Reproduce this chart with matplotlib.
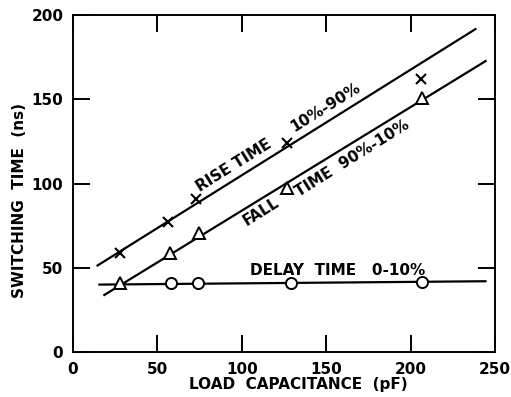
import numpy as np
import matplotlib
matplotlib.use("Agg")
import matplotlib.pyplot as plt

# measured points (load capacitance in pF, time in ns)
rise_x = [28, 56, 73, 127, 206]
rise_y = [59, 77, 91, 124, 162]
fall_x = [28, 57.5, 74.5, 127, 207]
fall_y = [41, 59, 70.5, 97.5, 150.5]
delay_x = [58, 74, 129, 207]
delay_y = [41, 41, 41, 41.3]

# hand-drawn straight lines through the data
rise_line_x = [14, 239]
rise_line_y = [51, 192]
fall_line_x = [18, 245]
fall_line_y = [33.5, 173]
delay_line_x = [15, 245]
delay_line_y = [40, 42]

xticks = [0, 50, 100, 150, 200, 250]
yticks = [0, 50, 100, 150, 200]

fig = plt.figure(figsize=(5.11, 3.97), dpi=100)
ax = fig.add_axes([73 / 511, 45 / 397, 422 / 511, 337 / 397])

lw = 1.6
ax.plot(rise_line_x, rise_line_y, color='black', lw=lw, solid_capstyle='butt')
ax.plot(fall_line_x, fall_line_y, color='black', lw=lw, solid_capstyle='butt')
ax.plot(delay_line_x, delay_line_y, color='black', lw=lw, solid_capstyle='butt')

ax.plot(rise_x, rise_y, ls='none', marker='x', ms=7, mew=1.5, color='black')
ax.plot(fall_x, fall_y, ls='none', marker='^', ms=8, mew=1.4,
        mfc='white', mec='black', zorder=4)
ax.plot(delay_x, delay_y, ls='none', marker='o', ms=8, mew=1.4,
        mfc='white', mec='black', zorder=4)

# labels along the lines
ang = 32
tkw = dict(fontsize=11, fontweight='bold', rotation=ang, rotation_mode='anchor',
           ha='left', va='baseline', color='black')
ax.text(75, 95, 'RISE TIME', **tkw)
ax.text(131, 130.5, '10%-90%', **tkw)
ax.text(103, 75, 'FALL', **tkw)
ax.text(134, 92, 'TIME  90%-10%', **tkw)
ax.text(105, 45.5, 'DELAY  TIME   0-10%', fontsize=11, fontweight='bold',
        ha='left', va='baseline', color='black')

ax.set_xlim(0, 250)
ax.set_ylim(0, 200)
ax.set_xticks(xticks)
ax.set_yticks(yticks)
ax.tick_params(direction='in', length=12, width=1.4, top=True, right=True,
               labelsize=11, pad=7)
for lab in ax.get_xticklabels() + ax.get_yticklabels():
    lab.set_fontweight('bold')
for s in ax.spines.values():
    s.set_linewidth(1.4)

ax.set_xlabel('LOAD  CAPACITANCE  (pF)', fontsize=11, fontweight='bold')
ax.set_ylabel('SWITCHING  TIME  (ns)', fontsize=11, fontweight='bold')
ax.xaxis.set_label_coords((298 - 73) / 422, (352 - 377) / 337)
ax.yaxis.set_label_coords((27 - 73) / 422, (352 - 201) / 337)

fig.savefig('out.png', dpi=100)
